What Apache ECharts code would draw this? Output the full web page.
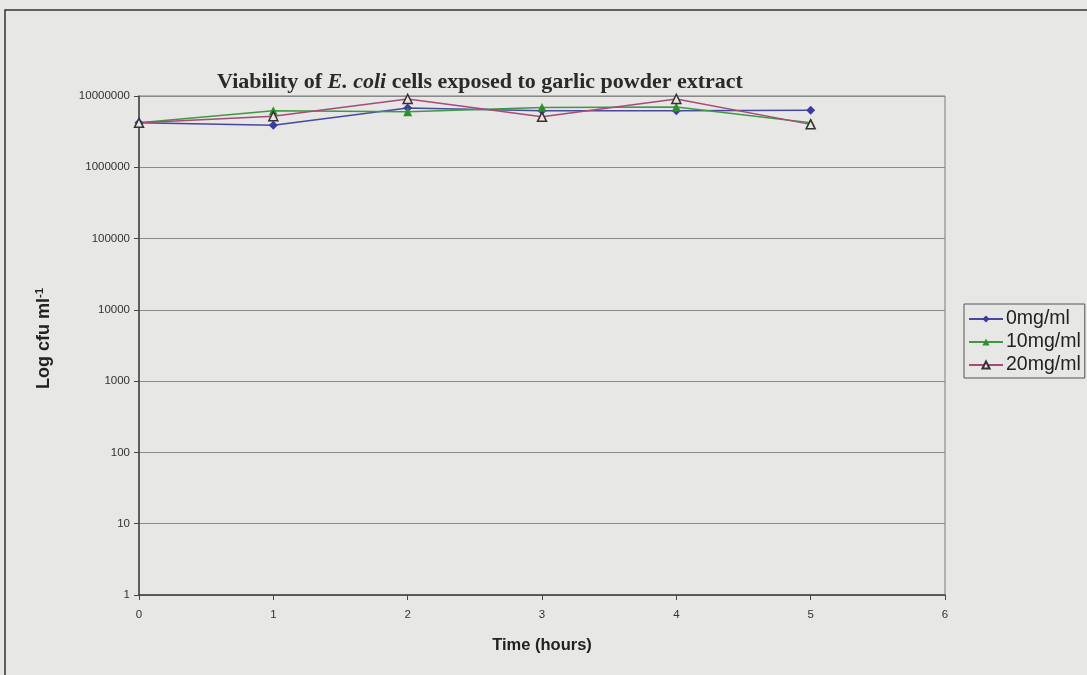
<!DOCTYPE html>
<html><head><meta charset="utf-8">
<script src="https://cdn.jsdelivr.net/npm/echarts@6/dist/echarts.min.js"></script>
<style>html,body{margin:0;padding:0;background:#e7e7e5;}#c{width:1087px;height:675px;}</style>
</head><body><div id="c"></div>
<script>
const hours = [0, 1, 2, 3, 4, 5];
const s0 = [4.2e6, 3.9e6, 6.8e6, 6.2e6, 6.2e6, 6.3e6];
const s10 = [4.2e6, 6.2e6, 6.0e6, 6.9e6, 7.0e6, 4.2e6];
const s20 = [4.2e6, 5.2e6, 9.1e6, 5.1e6, 9.1e6, 4.0e6];
const seriesNames = ['0mg/ml', '10mg/ml', '20mg/ml'];
const xTicks = [0, 1, 2, 3, 4, 5, 6];
const yTicks = [1, 10, 100, 1000, 10000, 100000, 1000000, 10000000];

const chart = echarts.init(document.getElementById('c'));
const pair = arr => hours.map((h, i) => [h, arr[i]]);
chart.setOption({
  backgroundColor: '#e7e7e5',
  animation: false,
  title: {
    text: '{b|Viability of }{i|E. coli}{b| cells exposed to garlic powder extract}',
    left: 475, top: 66, textAlign: 'center',
    textStyle: {
      rich: {
        b: {fontFamily: 'Liberation Serif', fontWeight: 'bold', fontSize: 22, color: '#2a2a2a'},
        i: {fontFamily: 'Liberation Serif', fontWeight: 'bold', fontStyle: 'italic', fontSize: 22, color: '#2a2a2a'}
      }
    }
  },
  grid: {left: 139, right: 142, top: 96, bottom: 80, show: true, borderColor: '#7a7a7a', borderWidth: 1, backgroundColor: 'transparent'},
  legend: {
    orient: 'vertical', left: 964, top: 304,
    data: seriesNames,
    borderColor: '#555', borderWidth: 1, padding: [5, 4, 3, 4],
    itemWidth: 34, itemHeight: 9, itemGap: 3,
    textStyle: {fontFamily: 'Liberation Sans', fontSize: 19.5, color: '#222', padding: [0, 0, 0, -2]}
  },
  xAxis: {
    type: 'value', min: 0, max: 6, interval: 1,
    name: 'Time (hours)', nameLocation: 'middle', nameGap: 42,
    nameTextStyle: {fontFamily: 'Liberation Sans', fontWeight: 'bold', fontSize: 16.5, color: '#222'},
    axisLine: {show: true, lineStyle: {color: '#444', width: 1.5}},
    axisTick: {show: true, length: 5, inside: false, lineStyle: {color: '#444'}},
    axisLabel: {fontFamily: 'Liberation Sans', fontSize: 11.5, color: '#333', margin: 14},
    splitLine: {show: false}
  },
  yAxis: {
    type: 'log', logBase: 10, min: 1, max: 1e7,
    name: '{n|Log cfu ml}{s|-1}', nameLocation: 'middle', nameGap: 84, nameRotate: 90,
    nameTextStyle: {
      padding: [0, 0, 0, 14],
      rich: {
        n: {fontFamily: 'Liberation Sans', fontWeight: 'bold', fontSize: 18, color: '#222'},
        s: {fontFamily: 'Liberation Sans', fontWeight: 'bold', fontSize: 11.5, color: '#222', verticalAlign: 'top', padding: [0, 0, 9, 0]}
      }
    },
    axisLine: {show: true, lineStyle: {color: '#444', width: 1.5}},
    axisTick: {show: true, length: 5, lineStyle: {color: '#444'}},
    axisLabel: {fontFamily: 'Liberation Sans', fontSize: 11.5, color: '#333', margin: 9,
      formatter: v => String(Math.round(v))},
    splitLine: {show: true, lineStyle: {color: '#8a8a8a', width: 1}}
  },
  graphic: [{
    type: 'rect', shape: {x: 5, y: 10, width: 1100, height: 700},
    style: {fill: 'none', stroke: '#333', lineWidth: 1.5}, silent: true
  }],
  series: [
    {name: seriesNames[0], type: 'line', data: pair(s0), symbol: 'diamond', symbolSize: 9,
      lineStyle: {color: '#4848a0', width: 1.5}, itemStyle: {color: '#3c3ca0'}},
    {name: seriesNames[1], type: 'line', data: pair(s10), symbol: 'triangle', symbolSize: 9,
      lineStyle: {color: '#3f9a3f', width: 1.5}, itemStyle: {color: '#2f8f2f'}},
    {name: seriesNames[2], type: 'line', data: pair(s20), symbol: 'triangle', symbolSize: 9,
      lineStyle: {color: '#a64a78', width: 1.5}, itemStyle: {color: '#e7e7e5', borderColor: '#3a3030', borderWidth: 1.5}}
  ]
});
</script></body></html>
